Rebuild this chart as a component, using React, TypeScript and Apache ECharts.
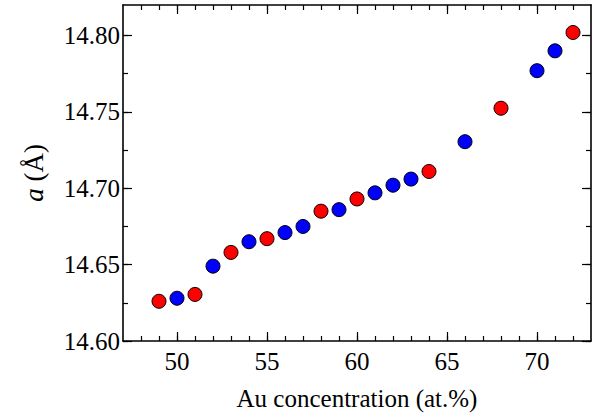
import React, { useEffect, useRef } from "react";
import * as echarts from "echarts";

const redPoints: [number, number][] = [
  [49, 14.626], [51, 14.6305], [53, 14.658], [55, 14.667], [58, 14.685],
  [60, 14.693], [64, 14.711], [68, 14.7524], [72, 14.802],
];
const bluePoints: [number, number][] = [
  [50, 14.628], [52, 14.649], [54, 14.665], [56, 14.671], [57, 14.675],
  [59, 14.686], [61, 14.697], [62, 14.702], [63, 14.706], [66, 14.7305],
  [70, 14.777], [71, 14.790],
];
const xTicks = [50, 55, 60, 65, 70];
const yTicks = [14.6, 14.65, 14.7, 14.75, 14.8];
const X_MIN = 47, X_MAX = 73, Y_MIN = 14.6, Y_MAX = 14.82;

const xMinor: number[] = [];
for (let v = 48; v <= 72; v++) xMinor.push(v);
const yMinor: number[] = [];
for (let i = 0; i <= 8; i++) yMinor.push(+(14.6 + i * 0.025).toFixed(3));

const FONT = "Liberation Serif";

export default function App() {
  const ref = useRef<HTMLDivElement>(null);
  useEffect(() => {
    const chart = echarts.init(ref.current!, null, { renderer: "svg" });
    const line = { show: true, lineStyle: { color: "#000", width: 1.6 } };
    const mkX = (pos: string, vals: number[], len: number, main: boolean, showLine: boolean) => ({
      type: "value", position: pos, min: X_MIN, max: X_MAX,
      axisLine: showLine ? line : { show: false },
      splitLine: { show: false },
      axisTick: { show: true, inside: true, length: len, customValues: vals, lineStyle: { color: "#000", width: 1.2 } },
      axisLabel: main
        ? { show: true, customValues: xTicks, color: "#000", fontFamily: FONT, fontSize: 25, margin: 8 }
        : { show: false },
      name: main ? "Au concentration (at.%)" : "",
      nameLocation: "middle", nameGap: 45,
      nameTextStyle: { color: "#000", fontFamily: FONT, fontSize: 25 },
    });
    const mkY = (pos: string, vals: number[], len: number, main: boolean, showLine: boolean) => ({
      type: "value", position: pos, min: Y_MIN, max: Y_MAX,
      axisLine: showLine ? line : { show: false },
      splitLine: { show: false },
      axisTick: { show: true, inside: true, length: len, customValues: vals, lineStyle: { color: "#000", width: 1.2 } },
      axisLabel: main
        ? { show: true, customValues: yTicks, color: "#000", fontFamily: FONT, fontSize: 25, margin: 3,
            formatter: (v: number) => v.toFixed(2) }
        : { show: false },
      name: main ? "{i|a} (Å)" : "",
      nameLocation: "middle", nameGap: 76, nameRotate: 90,
      nameTextStyle: { color: "#000", fontFamily: FONT, fontSize: 27,
        rich: { i: { fontStyle: "italic", fontFamily: FONT, fontSize: 27, color: "#000" } } },
    });
    chart.setOption({
      animation: false,
      textStyle: { fontFamily: FONT },
      grid: { left: 123, top: 5, right: 3, bottom: 77 },
      xAxis: [
        mkX("bottom", xTicks, 9, true, true),
        mkX("bottom", xMinor, 5, false, false),
        mkX("top", xTicks, 9, false, true),
        mkX("top", xMinor, 5, false, false),
      ],
      yAxis: [
        mkY("left", yTicks, 9, true, true),
        mkY("left", yMinor, 5, false, false),
        mkY("right", yTicks, 9, false, true),
        mkY("right", yMinor, 5, false, false),
      ],
      series: [
        { type: "scatter", data: redPoints, symbolSize: 14,
          itemStyle: { color: "#ff0000", borderColor: "#000", borderWidth: 1, opacity: 1 } },
        { type: "scatter", data: bluePoints, symbolSize: 14,
          itemStyle: { color: "#0000ff", borderColor: "#000", borderWidth: 1, opacity: 1 } },
      ],
    });
    return () => chart.dispose();
  }, []);
  return <div ref={ref} style={{ width: 594, height: 418, position: "absolute", left: 0, top: 0 }} />;
}
